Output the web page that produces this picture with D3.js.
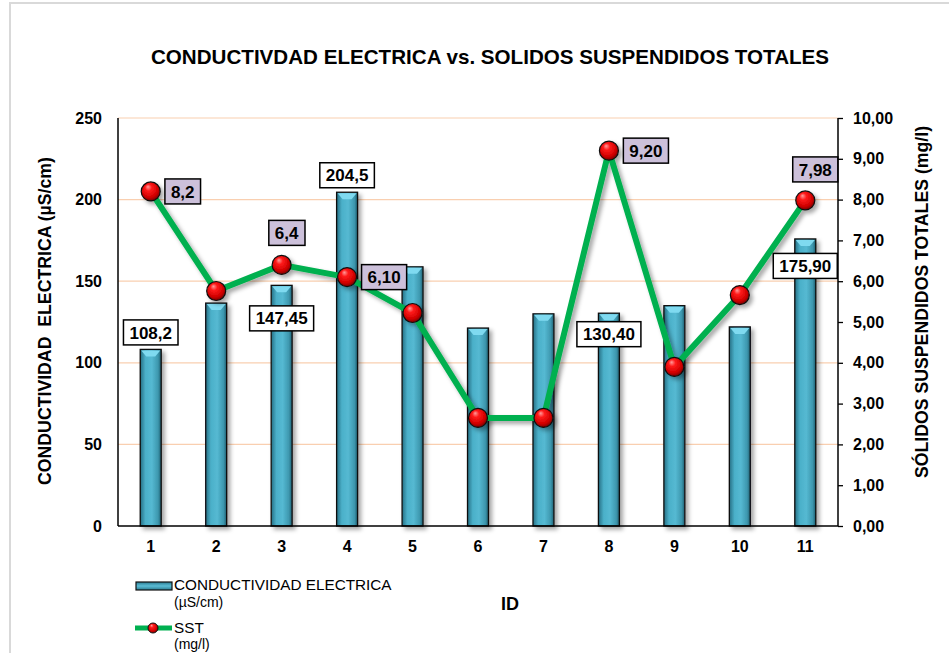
<!DOCTYPE html>
<html>
<head>
<meta charset="utf-8">
<script src="https://cdn.jsdelivr.net/npm/d3@7"></script>
<style>
  body { margin: 0; background: #fff; }
  svg text { font-family: "Liberation Sans", Arial, sans-serif; }
</style>
</head>
<body>
<div id="chart"></div>
<script>
// data
var categories = ["1", "2", "3", "4", "5", "6", "7", "8", "9", "10", "11"];
var conductividad = [108.2, 136.6, 147.45, 204.5, 158.8, 121.3, 130.0, 130.4, 135.0, 122.0, 175.9];
var sst = [8.2, 5.76, 6.4, 6.1, 5.22, 2.65, 2.65, 9.2, 3.9, 5.66, 7.98];
var leftTicks = [0, 50, 100, 150, 200, 250];
var rightTicks = [0, 1, 2, 3, 4, 5, 6, 7, 8, 9, 10];
// labelled points (index, text)
var barLabelIdx = [0, 2, 3, 7, 10];
var barLabelText = ["108,2", "147,45", "204,5", "130,40", "175,90"];
var sstLabelIdx = [0, 2, 3, 7, 10];
var sstLabelText = ["8,2", "6,4", "6,10", "9,20", "7,98"];

var W = 949, H = 653;
var pLeft = 118, pRight = 838, pTop = 118, pBottom = 526;

var svg = d3.select("#chart").append("svg").attr("width", W).attr("height", H);
var defs = svg.append("defs");

// bar gradient (cylinder look)
var bg = defs.append("linearGradient").attr("id", "barGrad").attr("x1", 0).attr("x2", 1).attr("y1", 0).attr("y2", 0);
bg.append("stop").attr("offset", "0%").attr("stop-color", "#256f84");
bg.append("stop").attr("offset", "25%").attr("stop-color", "#4bb0c9");
bg.append("stop").attr("offset", "55%").attr("stop-color", "#55b9d2");
bg.append("stop").attr("offset", "85%").attr("stop-color", "#3d97ae");
bg.append("stop").attr("offset", "100%").attr("stop-color", "#1f5e70");

var lg = defs.append("linearGradient").attr("id", "legGrad").attr("x1", 0).attr("x2", 0).attr("y1", 0).attr("y2", 1);
lg.append("stop").attr("offset", "0%").attr("stop-color", "#2a7a8f");
lg.append("stop").attr("offset", "50%").attr("stop-color", "#5bbdd6");
lg.append("stop").attr("offset", "100%").attr("stop-color", "#2a7a8f");

var rg = defs.append("radialGradient").attr("id", "ball").attr("cx", "45%").attr("cy", "40%").attr("r", "60%").attr("fx", "35%").attr("fy", "25%");
rg.append("stop").attr("offset", "0%").attr("stop-color", "#ff9c9c");
rg.append("stop").attr("offset", "30%").attr("stop-color", "#ff1a1a");
rg.append("stop").attr("offset", "75%").attr("stop-color", "#d00000");
rg.append("stop").attr("offset", "100%").attr("stop-color", "#7a0000");

var sh = defs.append("filter").attr("id", "shadow").attr("x", "-20%").attr("y", "-20%").attr("width", "140%").attr("height", "140%");
sh.append("feDropShadow").attr("dx", 3).attr("dy", 3).attr("stdDeviation", 2).attr("flood-color", "#000").attr("flood-opacity", 0.35);

// outer border
svg.append("rect").attr("x", 10).attr("y", 3).attr("width", 980).attr("height", 700)
  .attr("fill", "#fff").attr("stroke", "#d9d9d9").attr("stroke-width", 2);

var x = d3.scaleBand().domain(categories).range([pLeft, pRight]).paddingInner(0.68).paddingOuter(0.34);
var yL = d3.scaleLinear().domain([0, 250]).range([pBottom, pTop]);
var yR = d3.scaleLinear().domain([0, 10]).range([pBottom, pTop]);
var cx = function(i){ return x(categories[i]) + x.bandwidth() / 2; };

// gridlines
svg.append("g").selectAll("line").data(leftTicks.filter(function(d){ return d > 0; })).enter().append("line")
  .attr("x1", pLeft).attr("x2", pRight).attr("y1", function(d){ return yL(d); }).attr("y2", function(d){ return yL(d); })
  .attr("stroke", "#f9cfb0").attr("stroke-width", 1.2);

// bars
var bars = svg.append("g").attr("filter", "url(#shadow)");
bars.selectAll("rect").data(conductividad).enter().append("rect")
  .attr("x", function(d, i){ return x(categories[i]); })
  .attr("y", function(d){ return yL(d); })
  .attr("width", x.bandwidth())
  .attr("height", function(d){ return pBottom - yL(d); })
  .attr("fill", "url(#barGrad)").attr("stroke", "#111").attr("stroke-width", 1.3);
bars.selectAll("path").data(conductividad).enter().append("path")
  .attr("d", function(d, i){
    var x0 = x(categories[i]) + 1, x1 = x0 + x.bandwidth() - 2, y0 = yL(d) + 1;
    return "M" + x0 + "," + y0 + "L" + x1 + "," + y0 + "L" + (x1 - 5) + "," + (y0 + 6) + "L" + (x0 + 5) + "," + (y0 + 6) + "Z";
  })
  .attr("fill", "#7fdaf0");

// axes
var axL = svg.append("g").attr("transform", "translate(" + pLeft + ",0)")
  .call(d3.axisLeft(yL).tickValues(leftTicks).tickSize(0).tickPadding(16));
var axR = svg.append("g").attr("transform", "translate(" + pRight + ",0)")
  .call(d3.axisRight(yR).tickValues(rightTicks).tickSize(5).tickPadding(10)
    .tickFormat(function(d){ return d.toFixed(2).replace(".", ","); }));
var axB = svg.append("g").attr("transform", "translate(0," + pBottom + ")")
  .call(d3.axisBottom(x).tickSize(0).tickPadding(15));
[axL, axR, axB].forEach(function(a){
  a.selectAll("path").attr("stroke", "#000").attr("stroke-width", 1.5);
  a.selectAll("line").attr("stroke", "#000").attr("stroke-width", 1.3);
  a.selectAll("text").attr("font-size", 16).attr("font-weight", "bold").attr("fill", "#000")
    .attr("font-family", "Liberation Sans, Arial, sans-serif");
});
axB.select("path").attr("d", "M" + pLeft + ",0H" + pRight);
axL.select("path").attr("d", "M0," + pBottom + "V" + pTop);
axR.select("path").attr("d", "M0," + pBottom + "V" + pTop);

// SST line + markers
var lineG = svg.append("g").attr("filter", "url(#shadow)");
lineG.append("path").datum(sst)
  .attr("d", d3.line().x(function(d, i){ return cx(i); }).y(function(d){ return yR(d); }))
  .attr("fill", "none").attr("stroke", "#00b050").attr("stroke-width", 6).attr("stroke-linejoin", "round");
lineG.selectAll("circle").data(sst).enter().append("circle")
  .attr("cx", function(d, i){ return cx(i); }).attr("cy", function(d){ return yR(d); })
  .attr("r", 9.5).attr("fill", "url(#ball)").attr("stroke", "#111").attr("stroke-width", 1.2);

// data labels
function addLabel(px, py, txt, fill) {
  var g = svg.append("g");
  var t = g.append("text").attr("x", px).attr("y", py).attr("dy", "0.36em")
    .attr("text-anchor", "middle").attr("font-size", 17).attr("font-weight", "bold").text(txt);
  var bb = t.node().getBBox();
  g.insert("rect", "text").attr("x", bb.x - 6).attr("y", py - 12.5)
    .attr("width", bb.width + 12).attr("height", 25)
    .attr("fill", fill).attr("stroke", "#000").attr("stroke-width", 1.5);
}
// bar label placements: offset of label centre from bar top
var barLabelDy = [-17, 33, -17, 21, 27];
barLabelIdx.forEach(function(i, k){
  addLabel(cx(i), yL(conductividad[i]) + barLabelDy[k], barLabelText[k], "#fff");
});
// sst label placements: [dx, dy] of label centre from point
var sstLabelOff = [[32, 0], [5, -32], [37, 0], [37, 0], [10, -31]];
sstLabelIdx.forEach(function(i, k){
  addLabel(cx(i) + sstLabelOff[k][0], yR(sst[i]) + sstLabelOff[k][1], sstLabelText[k], "#ccc0da");
});

// titles
svg.append("text").attr("x", 490).attr("y", 64).attr("text-anchor", "middle")
  .attr("font-size", 20.6).attr("font-weight", "bold")
  .text("CONDUCTIVDAD ELECTRICA vs. SOLIDOS SUSPENDIDOS TOTALES");
svg.append("text").attr("transform", "translate(51,321) rotate(-90)").attr("text-anchor", "middle")
  .attr("font-size", 17.7).attr("font-weight", "bold").attr("xml:space", "preserve")
  .text("CONDUCTIVIDAD  ELECTRICA (µS/cm)");
svg.append("text").attr("transform", "translate(928,302) rotate(-90)").attr("text-anchor", "middle")
  .attr("font-size", 17.7).attr("font-weight", "bold")
  .text("SÓLIDOS SUSPENDIDOS TOTALES (mg/l)");
svg.append("text").attr("x", 510).attr("y", 610).attr("text-anchor", "middle")
  .attr("font-size", 18).attr("font-weight", "bold").text("ID");

// legend
var leg = svg.append("g");
leg.append("rect").attr("x", 136).attr("y", 582).attr("width", 36).attr("height", 8)
  .attr("fill", "url(#legGrad)").attr("stroke", "#111").attr("stroke-width", 1.2);
leg.append("text").attr("x", 174).attr("y", 590).attr("font-size", 15.3).text("CONDUCTIVIDAD ELECTRICA");
leg.append("text").attr("x", 174).attr("y", 607).attr("font-size", 14).text("(µS/cm)");
leg.append("line").attr("x1", 135).attr("x2", 172).attr("y1", 628).attr("y2", 628)
  .attr("stroke", "#00b050").attr("stroke-width", 5);
leg.append("circle").attr("cx", 153).attr("cy", 628).attr("r", 5)
  .attr("fill", "url(#ball)").attr("stroke", "#111").attr("stroke-width", 1);
leg.append("text").attr("x", 174).attr("y", 633).attr("font-size", 15.3).text("SST");
leg.append("text").attr("x", 174).attr("y", 649).attr("font-size", 14).text("(mg/l)");
</script>
</body>
</html>
